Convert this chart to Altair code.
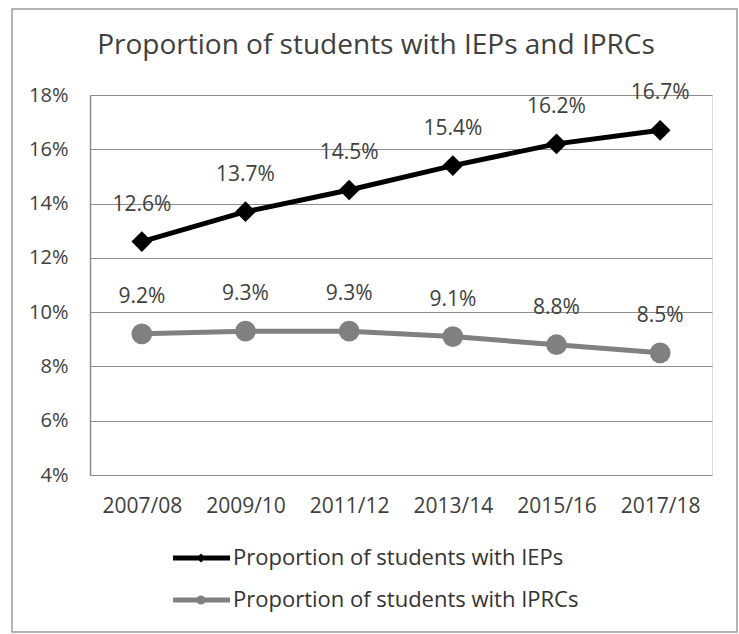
import altair as alt
import pandas as pd

years = ["2007/08", "2009/10", "2011/12", "2013/14", "2015/16", "2017/18"]
iep = [12.6, 13.7, 14.5, 15.4, 16.2, 16.7]
iprc = [9.2, 9.3, 9.3, 9.1, 8.8, 8.5]
series = ["Proportion of students with IEPs", "Proportion of students with IPRCs"]
y_ticks = [0.04, 0.06, 0.08, 0.10, 0.12, 0.14, 0.16, 0.18]
chart_title = "Proportion of students with IEPs and IPRCs"
colors = ["#000000", "#808080"]
shapes = ["diamond", "circle"]

rows = []
for s, vals in zip(series, [iep, iprc]):
    for yr, v in zip(years, vals):
        rows.append({"year": yr, "series": s, "value": v / 100, "label": f"{v:.1f}%"})
df = pd.DataFrame(rows)

FONT = "Open Sans"
TXT = "#404040"
GRID = "#8c8c8c"

x = alt.X("year:N", sort=years, title=None,
          axis=alt.Axis(labelAngle=0, labelFontSize=21, labelColor=TXT, labelPadding=20,
                        domain=False, ticks=False, labelFont=FONT))
y = alt.Y("value:Q", title=None,
          scale=alt.Scale(domain=[0.04, 0.18], nice=False, zero=False),
          axis=alt.Axis(values=y_ticks, format=".0%", labelFontSize=20, labelColor=TXT,
                        labelPadding=22, ticks=False, domain=True, domainColor=GRID,
                        domainWidth=1.5, grid=True, gridColor=GRID, gridWidth=1.2,
                        labelFont=FONT))
color = alt.Color("series:N", scale=alt.Scale(domain=series, range=colors), legend=None)
shape = alt.Shape("series:N", scale=alt.Scale(domain=series, range=shapes), legend=None)

base = alt.Chart(df).encode(x=x, y=y, color=color)
lines = base.mark_line(strokeWidth=5)
points = base.mark_point(filled=True, size=430, opacity=1).encode(shape=shape)
labels = base.mark_text(dy=-37, fontSize=21, font=FONT).encode(
    text="label:N", color=alt.value(TXT))

one = pd.DataFrame({"a": [0]})
border = alt.Chart(one).mark_rect(fillOpacity=0, stroke="#9a9a9a", strokeWidth=1.5).encode(
    x=alt.value(-78), x2=alt.value(647), y=alt.value(-86), y2=alt.value(537))
title = alt.Chart(one).mark_text(fontSize=28, color=TXT, font=FONT, baseline="alphabetic").encode(
    x=alt.value(286), y=alt.value(-41), text=alt.value(chart_title))

legend_layers = []
for i, s in enumerate(series):
    yy = 463 + 42 * i
    ld = pd.DataFrame({"name": [s]})
    legend_layers.append(alt.Chart(ld).mark_rule(color=colors[i], strokeWidth=5).encode(
        x=alt.value(83), x2=alt.value(140), y=alt.value(yy)))
    legend_layers.append(alt.Chart(ld).mark_point(filled=True, opacity=1, size=80,
                                                   shape=shapes[i], color=colors[i]).encode(
        x=alt.value(111), y=alt.value(yy)))
    legend_layers.append(alt.Chart(ld).mark_text(align="left", baseline="middle", fontSize=22,
                                                 color="#333333", font=FONT).encode(
        x=alt.value(143), y=alt.value(yy), text="name:N"))

chart = alt.layer(border, title, lines, points, labels, *legend_layers).properties(
    width=622, height=380,
    autosize=alt.AutoSizeParams(type="none"),
    padding={"left": 90, "top": 95, "right": 27, "bottom": 159},
    background="white",
).configure_view(strokeWidth=0).configure(font=FONT)

chart.save("out.html", embed_options={"renderer": "svg", "actions": False})
